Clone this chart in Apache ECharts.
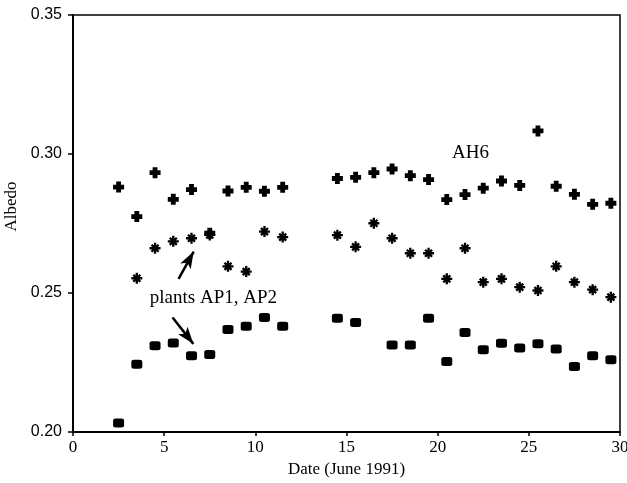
<!DOCTYPE html>
<html>
<head>
<meta charset="utf-8">
<script src="https://cdn.jsdelivr.net/npm/echarts@6/dist/echarts.min.js"></script>
<style>
html,body{margin:0;padding:0;background:#fff;}
#chart{width:627px;height:483px;}
</style>
</head>
<body>
<div id="chart"></div>
<script>
// ---- data ----
var crossDays = [2.5,3.5,4.5,5.5,6.5,7.5,8.5,9.5,10.5,11.5,14.5,15.5,16.5,17.5,18.5,19.5,20.5,21.5,22.5,23.5,24.5,25.5,26.5,27.5,28.5,29.5];
var crossVals = [0.2881,0.2775,0.2933,0.2837,0.2872,0.2715,0.2867,0.2880,0.2866,0.2880,0.2912,0.2916,0.2933,0.2946,0.2922,0.2908,0.2836,0.2854,0.2877,0.2903,0.2887,0.3083,0.2884,0.2855,0.2819,0.2823];

var starDays = [3.5,4.5,5.5,6.5,7.5,8.5,9.5,10.5,11.5,14.5,15.5,16.5,17.5,18.5,19.5,20.5,21.5,22.5,23.5,24.5,25.5,26.5,27.5,28.5,29.5];
var starVals = [0.2553,0.2661,0.2686,0.2697,0.2709,0.2596,0.2577,0.2721,0.2701,0.2708,0.2666,0.2751,0.2697,0.2643,0.2643,0.2551,0.2661,0.2539,0.2551,0.2521,0.2509,0.2596,0.2539,0.2512,0.2485];

var squareDays = [2.5,3.5,4.5,5.5,6.5,7.5,8.5,9.5,10.5,11.5,14.5,15.5,17.5,18.5,19.5,20.5,21.5,22.5,23.5,24.5,25.5,26.5,27.5,28.5,29.5];
var squareVals = [0.2032,0.2244,0.2310,0.2320,0.2274,0.2279,0.2369,0.2380,0.2412,0.2380,0.2409,0.2394,0.2313,0.2313,0.2409,0.2254,0.2358,0.2296,0.2319,0.2302,0.2317,0.2299,0.2236,0.2274,0.2260];

var xTicks = [0, 5, 10, 15, 20, 25, 30];
var yTicks = [0.20, 0.25, 0.30, 0.35];

var xTitle = 'Date (June 1991)';
var yTitle = 'Albedo';
var labelAH6 = 'AH6';
var labelPlants = 'plants AP1, AP2';
// annotation anchors (data units)
var ah6Pos = [21.8, 0.3002];
var plantsPos = [7.7, 0.2481];
var arrowUp = [[5.79, 0.2551], [6.62, 0.2649]];
var arrowDown = [[5.46, 0.2412], [6.6, 0.2317]];

function pairs(xs, ys) { return xs.map(function (x, i) { return [x, ys[i]]; }); }

var crossPath = 'path://M2.8,0H7.2V2.8H10V7.2H7.2V10H2.8V7.2H0V2.8H2.8Z';
var starPath = 'path://M1,8.1H19V11.9H1Z M8.1,1H11.9V19H8.1Z M5.6,2.9L17.1,14.4L14.4,17.1L2.9,5.6Z M2.9,14.4L14.4,2.9L17.1,5.6L5.6,17.1Z M6.5,6.5H13.5V13.5H6.5Z';

var serif = '"Liberation Serif","Times New Roman",serif';
var sans = '"Liberation Sans",Arial,sans-serif';

var chart = echarts.init(document.getElementById('chart'), null, {renderer: 'canvas'});
chart.setOption({
  animation: false,
  backgroundColor: '#fff',
  grid: {left: 73, right: 7, top: 15, bottom: 51, outerBoundsMode: 'none', containLabel: false,
    show: true, borderColor: '#000', borderWidth: 1.5, backgroundColor: 'transparent'},
  xAxis: {
    type: 'value', min: xTicks[0], max: xTicks[xTicks.length - 1], interval: 5,
    name: xTitle, nameLocation: 'middle', nameGap: 28,
    nameTextStyle: {fontFamily: serif, fontSize: 17, color: '#000'},
    axisLine: {show: true, lineStyle: {color: '#000', width: 2}},
    axisTick: {show: true, inside: false, length: 4, lineStyle: {color: '#000', width: 1.5}},
    axisLabel: {fontFamily: serif, fontSize: 17, color: '#000', margin: 7},
    splitLine: {show: false}
  },
  yAxis: {
    type: 'value', min: yTicks[0], max: yTicks[yTicks.length - 1], interval: 0.05,
    name: yTitle, nameLocation: 'middle', nameGap: 44, nameRotate: 90,
    nameTextStyle: {fontFamily: serif, fontSize: 17, color: '#000', padding: [0, 0, 0, 34]},
    axisLine: {show: true, lineStyle: {color: '#000', width: 2}},
    axisTick: {show: true, inside: false, length: 5, lineStyle: {color: '#000', width: 1.5}},
    axisLabel: {fontFamily: sans, fontSize: 16, color: '#000', margin: 11,
      formatter: function (v) { return v.toFixed(2); }},
    splitLine: {show: false}
  },
  series: [
    {
      name: 'AH6', type: 'scatter', data: pairs(crossDays, crossVals),
      symbol: crossPath, symbolSize: 11, itemStyle: {color: '#000', opacity: 1},
      markPoint: {
        symbol: 'circle', symbolSize: 0, silent: true,
        label: {show: true, position: 'inside', color: '#000', fontFamily: serif, fontSize: 19,
          formatter: function (p) { return p.name; }},
        data: [
          {name: labelAH6, coord: ah6Pos},
          {name: labelPlants, coord: plantsPos}
        ]
      }
    },
    {
      name: 'AP1', type: 'scatter', data: pairs(starDays, starVals),
      symbol: starPath, symbolSize: 11, itemStyle: {color: '#000', opacity: 1},
      markLine: {
        silent: true, symbol: ['none', 'arrow'], symbolSize: [9, 17],
        label: {show: false},
        lineStyle: {color: '#000', width: 2.5, type: 'solid', opacity: 1},
        data: [
          [{coord: arrowUp[0]}, {coord: arrowUp[1]}],
          [{coord: arrowDown[0]}, {coord: arrowDown[1]}]
        ]
      }
    },
    {
      name: 'AP2', type: 'scatter', data: pairs(squareDays, squareVals),
      symbol: 'roundRect', symbolSize: [11, 9], itemStyle: {color: '#000', opacity: 1}
    }
  ]
});
</script>
</body>
</html>
